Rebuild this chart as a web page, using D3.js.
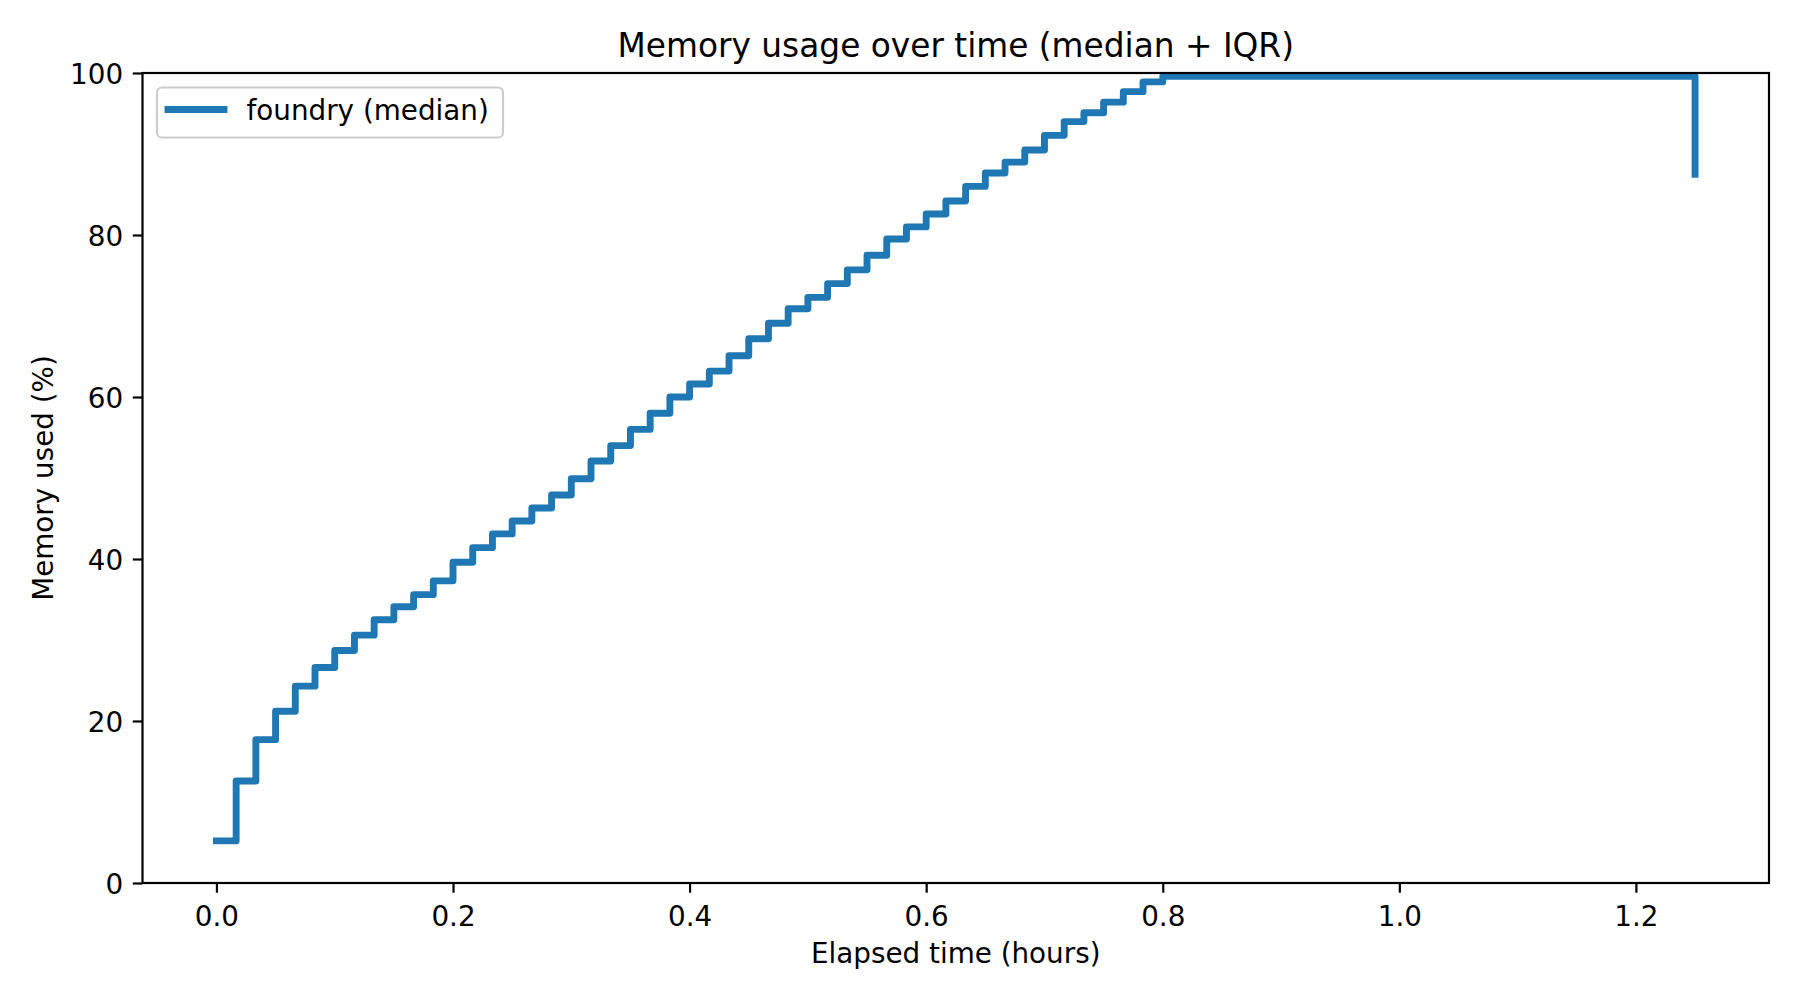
<!DOCTYPE html>
<html>
<head>
<meta charset="utf-8">
<script src="https://cdn.jsdelivr.net/npm/d3@7"></script>
<style>
  html, body { margin: 0; padding: 0; background: #ffffff; }
  svg { display: block; font-family: "DejaVu Sans", sans-serif; }
</style>
</head>
<body>
<svg id="chart" width="1800" height="1000"></svg>
<script>
// ---- Data ----
const elapsedMinutes = [0, 1, 2, 3, 4, 5, 6, 7, 8, 9, 10, 11, 12, 13, 14, 15, 16, 17, 18, 19,
  20, 21, 22, 23, 24, 25, 26, 27, 28, 29, 30, 31, 32, 33, 34, 35, 36, 37, 38, 39,
  40, 41, 42, 43, 44, 45, 46, 47, 48, 49, 50, 51, 52, 53, 54, 55, 56, 57, 58, 59,
  60, 61, 62, 63, 64, 65, 66, 67, 68, 69, 70, 71, 72, 73, 74, 75];
const medianMemory = [5.2, 12.6, 17.7, 21.2, 24.3, 26.6, 28.7, 30.6, 32.5, 34.1,
  35.6, 37.3, 39.6, 41.4, 43.1, 44.7, 46.3, 47.9, 49.9, 52.1,
  54.0, 56.0, 58.0, 60.0, 61.6, 63.2, 65.1, 67.2, 69.1, 70.9,
  72.3, 74.0, 75.7, 77.5, 79.5, 81.0, 82.6, 84.2, 86.0, 87.65,
  89.0, 90.5, 92.3, 94.0, 95.1, 96.4, 97.7, 98.9, 99.6, 99.6,
  99.6, 99.6, 99.6, 99.6, 99.6, 99.6, 99.6, 99.6, 99.6, 99.6,
  99.6, 99.6, 99.6, 99.6, 99.6, 99.6, 99.6, 99.6, 99.6, 99.6,
  99.6, 99.6, 99.6, 99.6, 99.6, 87.5];
const xTicks = [0.0, 0.2, 0.4, 0.6, 0.8, 1.0, 1.2];
const yTicks = [0, 20, 40, 60, 80, 100];
const seriesName = "foundry (median)";
const titleText = "Memory usage over time (median + IQR)";
const xLabelText = "Elapsed time (hours)";
const yLabelText = "Memory used (%)";

(function () {
  // ---- Layout ----
  const pL = 142.5, pR = 1769, pT = 73, pB = 883;
  const fs = 27.8, titleFs = 32.8;
  const lw = 2.2, tickLen = 9.7, pad = 9.7;
  const color = "#1f77b4";

  const points = elapsedMinutes.map((m, i) => ({ t: m / 60, v: medianMemory[i] }));
  const tMax = d3.max(points, d => d.t);
  const margin = tMax * 0.05;

  const x = d3.scaleLinear().domain([-margin, tMax + margin]).range([pL, pR]);
  const y = d3.scaleLinear().domain([0, 100]).range([pB, pT]);

  const svg = d3.select("#chart");

  svg.append("defs").append("clipPath").attr("id", "clip")
    .append("rect").attr("x", pL).attr("y", pT)
    .attr("width", pR - pL).attr("height", pB - pT);

  // line
  const line = d3.line().x(d => x(d.t)).y(d => y(d.v)).curve(d3.curveStepAfter);
  svg.append("path")
    .datum(points)
    .attr("clip-path", "url(#clip)")
    .attr("d", line)
    .attr("fill", "none")
    .attr("stroke", color)
    .attr("stroke-width", 6.9)
    .attr("stroke-linejoin", "round")
    .attr("stroke-linecap", "square");

  // axes
  const xAxis = d3.axisBottom(x).tickValues(xTicks).tickFormat(d3.format(".1f"))
    .tickSize(tickLen).tickPadding(pad).tickSizeOuter(0);
  const gx = svg.append("g").attr("transform", `translate(0,${pB})`).call(xAxis);
  const yAxis = d3.axisLeft(y).tickValues(yTicks).tickFormat(d3.format("d"))
    .tickSize(tickLen).tickPadding(pad).tickSizeOuter(0);
  const gy = svg.append("g").attr("transform", `translate(${pL},0)`).call(yAxis);

  [gx, gy].forEach(g => {
    g.select(".domain").remove();
    g.selectAll(".tick line").attr("stroke", "#000").attr("stroke-width", lw);
    g.selectAll(".tick text").attr("fill", "#000")
      .style("font-family", "DejaVu Sans").style("font-size", fs + "px");
  });
  gx.selectAll(".tick text").attr("dy", null).attr("y", tickLen + pad + 0.755 * fs + 3);
  gy.selectAll(".tick text").attr("dy", null).attr("y", 0.3645 * fs);

  // spines
  svg.append("rect")
    .attr("x", pL).attr("y", pT)
    .attr("width", pR - pL).attr("height", pB - pT)
    .attr("fill", "none").attr("stroke", "#000").attr("stroke-width", lw)
    .attr("stroke-linejoin", "miter");

  // title & labels
  svg.append("text").attr("x", (pL + pR) / 2).attr("y", 57)
    .attr("text-anchor", "middle").style("font-size", titleFs + "px").attr("fill", "#000")
    .text(titleText);
  svg.append("text").attr("x", (pL + pR) / 2).attr("y", 963)
    .attr("text-anchor", "middle").style("font-size", fs + "px").attr("fill", "#000")
    .text(xLabelText);
  svg.append("text")
    .attr("transform", `translate(53,${(pT + pB) / 2}) rotate(-90)`)
    .attr("text-anchor", "middle").style("font-size", fs + "px").attr("fill", "#000")
    .text(yLabelText);

  // legend
  const lg = svg.append("g");
  lg.append("rect").attr("x", 157).attr("y", 87.5).attr("width", 346).attr("height", 50)
    .attr("rx", 5).attr("ry", 5)
    .attr("fill", "rgba(255,255,255,0.8)").attr("stroke", "#cccccc").attr("stroke-width", 2.2);
  lg.append("line").attr("x1", 168).attr("x2", 224).attr("y1", 109.5).attr("y2", 109.5)
    .attr("stroke", color).attr("stroke-width", 6.9).attr("stroke-linecap", "square");
  lg.append("text").attr("x", 246.5).attr("y", 119.5)
    .style("font-size", fs + "px").attr("fill", "#000").text(seriesName);
})();
</script>
</body>
</html>
